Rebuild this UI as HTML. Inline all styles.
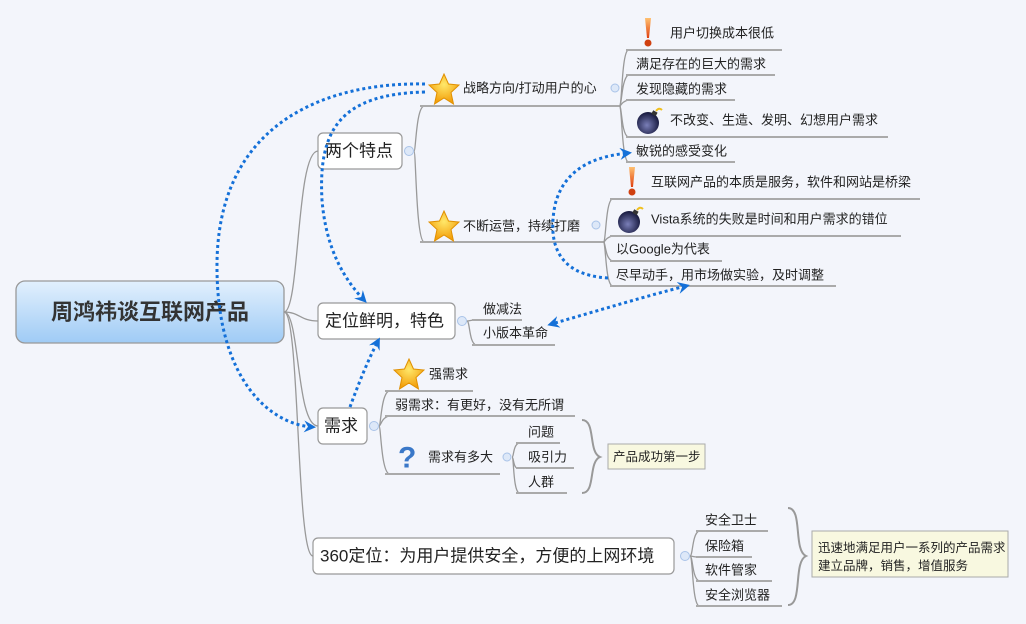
<!DOCTYPE html>
<html><head><meta charset="utf-8">
<style>
html,body{margin:0;padding:0;background:#f3f5fb;}
svg{display:block;}
text{font-family:"Liberation Sans","Noto Sans CJK SC",sans-serif;fill:#222;dominant-baseline:central;}
.s{font-size:13px;}
.m{font-size:17px;}
.ln{stroke:#999;stroke-width:1.3;fill:none;}
.ul{stroke:#aaa;stroke-width:2;fill:none;}
.box{fill:#fff;stroke:#999;stroke-width:1.2;}
.dot{stroke:#1470d8;stroke-width:3;stroke-dasharray:3,3;fill:none;}
.col{fill:#dde8f8;stroke:#a9c3e8;stroke-width:1;}
</style></head>
<body>
<svg width="1026" height="624" viewBox="0 0 1026 624" xmlns="http://www.w3.org/2000/svg">
<defs>
<linearGradient id="rg" x1="0" y1="0" x2="0" y2="1"><stop offset="0" stop-color="#e2f0fd"/><stop offset="1" stop-color="#9fcbf5"/></linearGradient>
<radialGradient id="st" cx="0.5" cy="0.35" r="0.6"><stop offset="0" stop-color="#ffe86a"/><stop offset="1" stop-color="#f3a00c"/></radialGradient>
<radialGradient id="bm" cx="0.45" cy="0.6" r="0.6"><stop offset="0" stop-color="#7a7fb8"/><stop offset="1" stop-color="#14163a"/></radialGradient>
<linearGradient id="ex" x1="0" y1="0" x2="0" y2="1"><stop offset="0" stop-color="#ffc070"/><stop offset="1" stop-color="#e04010"/></linearGradient>
<marker id="ar" markerWidth="14" markerHeight="14" refX="8" refY="6" orient="auto" markerUnits="userSpaceOnUse"><path d="M0,0 L12,6 L0,12 L4,6 z" fill="#1470d8"/></marker>
<marker id="as" markerWidth="14" markerHeight="14" refX="4" refY="6" orient="auto-start-reverse" markerUnits="userSpaceOnUse"><path d="M0,0 L12,6 L0,12 L4,6 z" fill="#1470d8"/></marker>
<symbol id="star" viewBox="0 0 32 32"><path d="M16,1 L20.5,11 L31,12 L23,19.5 L25.5,31 L16,25 L6.5,31 L9,19.5 L1,12 L11.5,11 z" fill="url(#st)" stroke="#e09000" stroke-width="1"/></symbol>
<symbol id="bomb" viewBox="0 0 30 28"><circle cx="13" cy="16" r="11" fill="url(#bm)"/><rect x="17" y="4" width="5" height="4" fill="#333" transform="rotate(30 19 6)"/><path d="M21,4 Q24,0 27,3" stroke="#f0c020" stroke-width="2" fill="none"/></symbol>
<symbol id="exc" viewBox="0 0 10 30"><path d="M2,1 L8,1 L6,21 L4,21 z" fill="url(#ex)"/><circle cx="5" cy="26" r="3.5" fill="#d04010"/></symbol>
</defs>

<path class="ln" d="M284,312 C300,312 296,151 318,151"/>
<path class="ln" d="M284,312 C300,312 300,321 318,321"/>
<path class="ln" d="M284,312 C300,312 296,426 318,426"/>
<path class="ln" d="M284,312 C300,312 296,556 313,556"/>

<rect x="16" y="281" width="268" height="62" rx="9" fill="url(#rg)" stroke="#999" stroke-width="1.3"/>
<text x="150" y="312" text-anchor="middle" style="font-size:22px;font-weight:bold;fill:#333">周鸿祎谈互联网产品</text>

<rect class="box" x="318" y="133" width="84" height="36" rx="5"/>
<text class="m" x="325" y="151">两个特点</text>
<circle class="col" cx="409" cy="151" r="4.5"/>
<path class="ln" d="M414,151 C416,151 416,108 424,106"/>
<path class="ln" d="M414,151 C416,151 416,240 424,242"/>
<path class="ul" d="M420,106 L620,106"/>
<path class="ul" d="M420,242 L604,242"/>
<use href="#star" x="428" y="73" width="32" height="32"/>
<text class="s" x="463" y="88">战略方向/打动用户的心</text>
<circle class="col" cx="615" cy="88" r="4"/>
<use href="#star" x="428" y="210" width="32" height="32"/>
<text class="s" x="463" y="226">不断运营，持续打磨</text>
<circle class="col" cx="596" cy="225" r="4"/>

<path class="ln" d="M620,106 C622,100 622,54 628,50"/>
<path class="ln" d="M620,106 C622,100 622,80 628,75"/>
<path class="ln" d="M620,106 C622,104 622,102 628,100"/>
<path class="ln" d="M620,106 C622,112 622,134 628,137"/>
<path class="ln" d="M620,106 C622,114 622,158 628,162"/>
<path class="ul" d="M626,50 L782,50"/>
<path class="ul" d="M626,75 L775,75"/>
<path class="ul" d="M626,100 L735,100"/>
<path class="ul" d="M626,137 L888,137"/>
<path class="ul" d="M626,162 L735,162"/>
<use href="#exc" x="643" y="17" width="10" height="30"/>
<text class="s" x="670" y="33">用户切换成本很低</text>
<text class="s" x="636" y="64">满足存在的巨大的需求</text>
<text class="s" x="636" y="89">发现隐藏的需求</text>
<use href="#bomb" x="635" y="107" width="30" height="28"/>
<text class="s" x="670" y="120">不改变、生造、发明、幻想用户需求</text>
<text class="s" x="636" y="151">敏锐的感受变化</text>

<path class="ln" d="M604,242 C606,236 606,203 612,199"/>
<path class="ln" d="M604,242 C606,240 606,238 612,236"/>
<path class="ln" d="M604,242 C606,248 606,258 612,261"/>
<path class="ln" d="M604,242 C606,252 606,282 612,286"/>
<path class="ul" d="M610,199 L920,199"/>
<path class="ul" d="M610,236 L901,236"/>
<path class="ul" d="M610,261 L722,261"/>
<path class="ul" d="M610,286 L836,286"/>
<use href="#exc" x="627" y="166" width="10" height="30"/>
<text class="s" x="651" y="182">互联网产品的本质是服务，软件和网站是桥梁</text>
<use href="#bomb" x="616" y="206" width="30" height="28"/>
<text class="s" x="651" y="219">Vista系统的失败是时间和用户需求的错位</text>
<text class="s" x="616" y="249">以Google为代表</text>
<text class="s" x="616" y="275">尽早动手，用市场做实验，及时调整</text>

<rect class="box" x="318" y="303" width="137" height="36" rx="5"/>
<text class="m" x="325" y="321">定位鲜明，特色</text>
<circle class="col" cx="462" cy="321" r="4.5"/>
<path class="ln" d="M467,321 C470,321 470,320 476,320"/>
<path class="ln" d="M467,321 C470,321 469,343 476,345"/>
<path class="ul" d="M472,320 L522,320"/>
<path class="ul" d="M472,345 L555,345"/>
<text class="s" x="483" y="309">做减法</text>
<text class="s" x="483" y="333">小版本革命</text>

<rect class="box" x="318" y="408" width="49" height="36" rx="5"/>
<text class="m" x="324" y="426">需求</text>
<circle class="col" cx="374" cy="426" r="4.5"/>
<path class="ln" d="M379,426 C381,426 381,394 389,391"/>
<path class="ln" d="M379,426 C381,426 381,418 389,416"/>
<path class="ln" d="M379,426 C381,426 381,470 389,474"/>
<path class="ul" d="M385,391 L473,391"/>
<path class="ul" d="M385,416 L575,416"/>
<path class="ul" d="M385,474 L500,474"/>
<use href="#star" x="393" y="358" width="32" height="32"/>
<text class="s" x="429" y="374">强需求</text>
<text class="s" x="395" y="405">弱需求：有更好，没有无所谓</text>
<text x="398" y="458" style="font-size:30px;font-weight:bold;fill:#3a78c8">?</text>
<text class="s" x="428" y="457">需求有多大</text>
<circle class="col" cx="507" cy="457" r="4"/>
<path class="ln" d="M512,457 C514,457 513,445 519,443"/>
<path class="ln" d="M512,457 C514,457 513,470 519,468"/>
<path class="ln" d="M512,457 C514,457 513,490 519,493"/>
<path class="ul" d="M516,443 L560,443"/>
<path class="ul" d="M516,468 L574,468"/>
<path class="ul" d="M516,493 L567,493"/>
<text class="s" x="528" y="432">问题</text>
<text class="s" x="528" y="457">吸引力</text>
<text class="s" x="528" y="482">人群</text>
<path d="M582,420 C596,420 588,452 600,457 C588,462 596,493 582,493" stroke="#999" stroke-width="2" fill="none"/>
<rect x="608" y="444" width="97" height="25" fill="#f8f8e0" stroke="#aaa" stroke-width="1"/>
<text class="s" x="613" y="457" style="font-size:12.5px">产品成功第一步</text>

<rect class="box" x="313" y="538" width="361" height="36" rx="5"/>
<text class="m" x="320" y="556">360定位：为用户提供安全，方便的上网环境</text>
<circle class="col" cx="685" cy="556" r="4.5"/>
<path class="ln" d="M690,556 C693,556 692,534 699,531"/>
<path class="ln" d="M690,556 C693,556 692,557 699,557"/>
<path class="ln" d="M690,556 C693,556 692,578 699,581"/>
<path class="ln" d="M690,556 C693,556 692,603 699,606"/>
<path class="ul" d="M696,531 L768,531"/>
<path class="ul" d="M696,557 L752,557"/>
<path class="ul" d="M696,581 L772,581"/>
<path class="ul" d="M696,606 L782,606"/>
<text class="s" x="705" y="520">安全卫士</text>
<text class="s" x="705" y="546">保险箱</text>
<text class="s" x="705" y="570">软件管家</text>
<text class="s" x="705" y="595">安全浏览器</text>
<path d="M788,508 C803,508 793,550 806,556 C793,562 803,605 788,605" stroke="#999" stroke-width="2" fill="none"/>
<rect x="812" y="531" width="196" height="46" fill="#f8f8e0" stroke="#aaa" stroke-width="1"/>
<text class="s" x="818" y="548" style="font-size:12.5px">迅速地满足用户一系列的产品需求</text>
<text class="s" x="818" y="566" style="font-size:12.5px">建立品牌，销售，增值服务</text>

<path class="dot" d="M425,84 C330,82 215,120 217,270 C218,380 270,424 312,427" marker-end="url(#ar)"/>
<path class="dot" d="M425,92 C340,94 318,130 322,200 C326,250 345,280 364,300" marker-end="url(#ar)"/>
<path class="dot" d="M350,407 C358,385 368,360 378,341" marker-end="url(#ar)"/>
<path class="dot" d="M608,278 C555,275 548,240 555,205 C565,165 600,156 628,153" marker-end="url(#ar)"/>
<path class="dot" d="M555,323 C600,310 650,295 686,286" marker-start="url(#as)" marker-end="url(#ar)"/>
</svg>
</body></html>
